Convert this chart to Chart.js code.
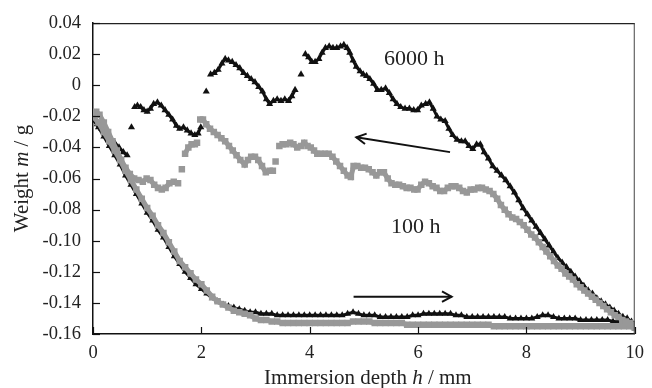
<!DOCTYPE html>
<html>
<head>
<meta charset="utf-8">
<script src="https://cdn.jsdelivr.net/npm/chart.js@4/dist/chart.umd.min.js"></script>
<style>
html,body{margin:0;padding:0;background:#fff;}
#wrap{width:652px;height:388px;}
</style>
</head>
<body>
<div id="wrap"><canvas id="c" width="652" height="388"></canvas></div>
<script>
// ---- data ----
const xTickLabels = ['0','2','4','6','8','10'];
const yTickLabels = ['-0.16','-0.14','-0.12','-0.10','-0.08','-0.06','-0.04','-0.02','0','0.02','0.04'];

// 6000 h, withdrawal branch (upper loop)
const h6000Withdrawal = [
[0,-0.022],[0.08,-0.025],[0.16,-0.028],[0.24,-0.031],[0.32,-0.034],[0.40,-0.037],[0.48,-0.040],[0.56,-0.043],[0.63,-0.045],
[0.67,null],[0.71,-0.027],[0.74,null],
[0.77,-0.014],[0.82,-0.013],[0.88,-0.014],[0.94,-0.016],[1.00,-0.017],[1.06,-0.015],[1.12,-0.012],[1.19,-0.011],[1.26,-0.013],[1.33,-0.016],[1.40,-0.019],[1.47,-0.022],[1.54,-0.026],[1.60,-0.028],[1.67,-0.027],[1.74,-0.029],[1.81,-0.031],[1.88,-0.032],[1.94,-0.031],[1.99,-0.027],
[2.04,null],[2.09,-0.004],[2.13,null],
[2.17,0.007],[2.24,0.008],[2.31,0.010],[2.38,0.014],[2.44,0.017],[2.50,0.016],[2.57,0.015],[2.64,0.013],[2.71,0.011],[2.78,0.008],[2.85,0.006],[2.92,0.004],[2.99,0.002],[3.06,-0.001],[3.13,-0.004],[3.20,-0.009],[3.26,-0.012],[3.33,-0.010],[3.40,-0.009],[3.47,-0.010],[3.54,-0.009],[3.61,-0.010],[3.67,-0.007],[3.73,-0.003],
[3.79,null],[3.84,0.007],[3.88,null],
[3.92,0.020],[3.98,0.018],[4.04,0.015],[4.10,0.015],[4.17,0.017],[4.23,0.021],[4.29,0.024],[4.36,0.025],[4.43,0.024],[4.50,0.024],[4.57,0.025],[4.63,0.026],[4.69,0.024],[4.74,0.021],[4.80,0.016],[4.86,0.012],[4.93,0.009],[4.99,0.007],[5.05,0.006],[5.11,0.004],[5.18,0.001],[5.25,-0.003],[5.32,-0.003],[5.40,-0.002],[5.47,-0.005],[5.54,-0.009],[5.61,-0.012],[5.68,-0.014],[5.76,-0.015],[5.84,-0.015],[5.92,-0.016],[5.99,-0.016],[6.06,-0.013],[6.14,-0.012],[6.21,-0.011],[6.28,-0.015],[6.35,-0.020],[6.42,-0.022],[6.50,-0.023],[6.57,-0.028],[6.64,-0.032],[6.72,-0.035],[6.80,-0.036],[6.87,-0.036],[6.94,-0.039],[7.01,-0.041],[7.08,-0.038],[7.15,-0.038],[7.22,-0.043],[7.30,-0.047],[7.38,-0.052],[7.46,-0.055],[7.54,-0.058],[7.62,-0.061],[7.70,-0.065],[7.78,-0.069],[7.86,-0.074],[7.94,-0.079],[8.02,-0.083],[8.10,-0.087],[8.18,-0.091],[8.26,-0.095],[8.34,-0.099],[8.42,-0.103],[8.50,-0.107],[8.58,-0.111],[8.66,-0.114],[8.74,-0.117],[8.82,-0.120],[8.90,-0.123],[8.98,-0.126],[9.06,-0.129],[9.14,-0.132],[9.22,-0.134],[9.30,-0.137],[9.38,-0.139],[9.46,-0.141],[9.54,-0.143],[9.62,-0.145],[9.70,-0.147],[9.78,-0.149],[9.86,-0.150],[9.94,-0.152],[10.00,-0.154]
];

// 6000 h, immersion branch (lower curve)
const h6000Immersion = [
[0,-0.022],[0.1,-0.027],[0.2,-0.033],[0.3,-0.039],[0.4,-0.045],[0.5,-0.051],[0.6,-0.058],[0.7,-0.064],[0.8,-0.070],[0.9,-0.076],[1.0,-0.082],[1.1,-0.087],[1.2,-0.093],[1.3,-0.098],[1.4,-0.104],[1.5,-0.110],[1.6,-0.115],[1.7,-0.120],[1.8,-0.124],[1.9,-0.128],[2.0,-0.131],[2.1,-0.134],[2.2,-0.137],[2.3,-0.139],[2.4,-0.141],[2.5,-0.142],[2.6,-0.143],[2.7,-0.144],[2.8,-0.145],[2.9,-0.146],
[3.0,-0.146],[3.1,-0.147],[3.2,-0.147],[3.3,-0.147],[3.4,-0.148],[3.5,-0.148],[3.6,-0.148],[3.7,-0.148],[3.8,-0.148],[3.9,-0.148],[4.0,-0.148],[4.1,-0.148],[4.2,-0.148],[4.3,-0.148],[4.4,-0.148],[4.5,-0.148],[4.6,-0.148],[4.7,-0.147],[4.8,-0.146],[4.9,-0.147],[5.0,-0.148],[5.1,-0.148],[5.2,-0.148],[5.3,-0.149],[5.4,-0.149],[5.5,-0.149],[5.6,-0.149],[5.7,-0.149],[5.8,-0.149],[5.9,-0.148],[6.0,-0.148],[6.1,-0.147],[6.2,-0.147],[6.3,-0.147],[6.4,-0.147],[6.5,-0.147],[6.6,-0.147],[6.7,-0.148],[6.8,-0.148],[6.9,-0.149],[7.0,-0.149],[7.1,-0.149],[7.2,-0.149],[7.3,-0.149],[7.4,-0.149],[7.5,-0.149],[7.6,-0.149],[7.7,-0.150],[7.8,-0.150],[7.9,-0.150],[8.0,-0.150],[8.1,-0.150],[8.2,-0.149],[8.3,-0.148],[8.4,-0.148],[8.5,-0.149],[8.6,-0.150],[8.7,-0.150],[8.8,-0.150],[8.9,-0.150],[9.0,-0.151],[9.1,-0.151],[9.2,-0.151],[9.3,-0.151],[9.4,-0.151],[9.5,-0.151],[9.6,-0.152],[9.7,-0.152],[9.8,-0.152],[9.9,-0.153],[10.0,-0.155]
];

// 100 h, withdrawal branch
const h100Withdrawal = [
[0,-0.018],[0.06,-0.017],[0.12,-0.019],[0.20,-0.024],[0.28,-0.030],[0.36,-0.036],[0.44,-0.042],[0.52,-0.048],[0.60,-0.053],[0.68,-0.057],[0.76,-0.060],[0.84,-0.061],[0.92,-0.062],[0.99,-0.060],[1.06,-0.061],[1.13,-0.064],[1.20,-0.066],[1.27,-0.067],[1.34,-0.066],[1.41,-0.063],[1.49,-0.062],[1.57,-0.063],
[1.61,null],[1.64,-0.054],[1.67,null],
[1.70,-0.044],[1.76,-0.040],[1.82,-0.038],[1.88,-0.038],[1.92,-0.037],
[1.95,null],
[1.98,-0.022],[2.03,-0.022],[2.09,-0.025],[2.16,-0.028],[2.23,-0.030],[2.30,-0.032],[2.37,-0.034],[2.44,-0.036],[2.51,-0.039],[2.58,-0.042],[2.65,-0.045],[2.72,-0.048],[2.80,-0.051],[2.86,-0.048],[2.92,-0.046],[2.99,-0.046],[3.05,-0.048],[3.12,-0.052],[3.19,-0.056],[3.26,-0.055],[3.32,-0.055],
[3.35,null],[3.37,-0.049],[3.40,null],
[3.44,-0.039],[3.50,-0.038],[3.57,-0.038],[3.64,-0.037],[3.70,-0.038],[3.77,-0.040],[3.84,-0.039],[3.90,-0.037],[3.96,-0.039],[4.02,-0.040],[4.08,-0.042],[4.14,-0.044],[4.21,-0.044],[4.28,-0.044],[4.35,-0.044],[4.42,-0.046],[4.49,-0.049],[4.56,-0.052],[4.63,-0.055],[4.70,-0.058],[4.76,-0.059],[4.81,-0.052],[4.88,-0.052],[4.95,-0.053],[5.02,-0.053],[5.09,-0.054],[5.16,-0.056],[5.23,-0.058],[5.30,-0.056],[5.37,-0.056],[5.44,-0.060],[5.51,-0.063],[5.58,-0.064],[5.65,-0.064],[5.72,-0.065],[5.79,-0.066],[5.86,-0.066],[5.93,-0.067],[5.99,-0.067],[6.06,-0.064],[6.13,-0.062],[6.20,-0.063],[6.27,-0.065],[6.34,-0.066],[6.41,-0.068],[6.48,-0.068],[6.55,-0.066],[6.62,-0.065],[6.69,-0.065],[6.76,-0.066],[6.83,-0.068],[6.90,-0.069],[6.97,-0.067],[7.04,-0.067],[7.11,-0.066],[7.18,-0.066],[7.25,-0.067],[7.32,-0.068],[7.39,-0.070],[7.46,-0.073],[7.53,-0.077],[7.60,-0.080],[7.67,-0.083],[7.74,-0.085],[7.81,-0.086],[7.88,-0.088],[7.95,-0.090],[8.02,-0.093],[8.09,-0.096],[8.16,-0.098],[8.23,-0.101],[8.30,-0.104],[8.37,-0.107],[8.44,-0.110],[8.51,-0.113],[8.58,-0.116],[8.65,-0.118],[8.72,-0.121],[8.79,-0.123],[8.86,-0.125],[8.93,-0.128],[9.00,-0.130],[9.07,-0.132],[9.14,-0.134],[9.21,-0.136],[9.28,-0.138],[9.35,-0.140],[9.42,-0.142],[9.49,-0.144],[9.56,-0.146],[9.63,-0.148],[9.70,-0.149],[9.77,-0.151],[9.84,-0.152],[9.91,-0.153],[10.00,-0.154]
];

// 100 h, immersion branch
const h100Immersion = [
[0,-0.020],[0.1,-0.024],[0.2,-0.030],[0.3,-0.036],[0.4,-0.042],[0.5,-0.048],[0.6,-0.055],[0.7,-0.061],[0.8,-0.067],[0.9,-0.073],[1.0,-0.079],[1.1,-0.084],[1.2,-0.090],[1.3,-0.095],[1.4,-0.101],[1.5,-0.107],[1.6,-0.113],[1.7,-0.117],[1.8,-0.121],[1.9,-0.125],[2.0,-0.128],[2.1,-0.132],[2.2,-0.136],[2.3,-0.139],[2.4,-0.141],[2.5,-0.143],[2.6,-0.145],[2.7,-0.146],[2.8,-0.147],[2.9,-0.148],
[3.0,-0.150],[3.1,-0.151],[3.2,-0.151],[3.3,-0.152],[3.4,-0.152],[3.5,-0.153],[3.6,-0.153],[3.7,-0.153],[3.8,-0.153],[3.9,-0.153],[4.0,-0.153],[4.1,-0.153],[4.2,-0.153],[4.3,-0.153],[4.4,-0.153],[4.5,-0.153],[4.6,-0.153],[4.7,-0.153],[4.8,-0.152],[4.9,-0.152],[5.0,-0.152],[5.1,-0.152],[5.2,-0.153],[5.3,-0.153],[5.4,-0.153],[5.5,-0.153],[5.6,-0.153],[5.7,-0.153],[5.8,-0.154],[5.9,-0.154],[6.0,-0.154],[6.1,-0.154],[6.2,-0.154],[6.3,-0.154],[6.4,-0.154],[6.5,-0.154],[6.6,-0.154],[6.7,-0.154],[6.8,-0.154],[6.9,-0.154],[7.0,-0.154],[7.1,-0.154],[7.2,-0.154],[7.3,-0.154],[7.4,-0.155],[7.5,-0.155],[7.6,-0.155],[7.7,-0.155],[7.8,-0.155],[7.9,-0.155],[8.0,-0.155],[8.1,-0.155],[8.2,-0.155],[8.3,-0.155],[8.4,-0.155],[8.5,-0.155],[8.6,-0.155],[8.7,-0.155],[8.8,-0.155],[8.9,-0.155],[9.0,-0.155],[9.1,-0.155],[9.2,-0.155],[9.3,-0.155],[9.4,-0.155],[9.5,-0.155],[9.6,-0.155],[9.7,-0.155],[9.8,-0.155],[9.9,-0.155],[10.0,-0.156]
];

// annotations (data coordinates)
const seriesLabels = [
  {text:'6000 h', x:5.37, y:0.0132},
  {text:'100 h',  x:5.50, y:-0.0948}
];
const arrows = [
  {from:[6.59,-0.043], to:[4.86,-0.0335]},
  {from:[4.81,-0.136], to:[6.62,-0.136]}
];

// ---- drawing ----
const SERIF = '"Liberation Serif","Times New Roman",serif';
const toPts = arr => arr.map(p => ({x:p[0], y:p[1]}));
const GRAY = '#989898', BLACK = '#111111';

const overlay = {
  id:'overlay',
  afterDraw(chart){
    const {ctx, chartArea:a, scales:{x, y}} = chart;
    ctx.save();
    // frame: top and right
    ctx.strokeStyle = '#222'; ctx.lineWidth = 1.2;
    ctx.beginPath(); ctx.moveTo(a.left, a.top + 0.5); ctx.lineTo(a.right, a.top + 0.5); ctx.stroke();
    ctx.strokeStyle = '#444'; ctx.lineWidth = 1;
    ctx.beginPath(); ctx.moveTo(a.right - 0.5, a.top); ctx.lineTo(a.right - 0.5, a.bottom); ctx.stroke();
    // inward ticks
    ctx.strokeStyle = '#111'; ctx.lineWidth = 1.2;
    y.ticks.forEach(t => {
      const py = Math.round(y.getPixelForValue(t.value)) + 0.5;
      ctx.beginPath(); ctx.moveTo(a.left, py); ctx.lineTo(a.left + 7, py); ctx.stroke();
    });
    x.ticks.forEach(t => {
      const px = Math.round(x.getPixelForValue(t.value)) + 0.5;
      ctx.beginPath(); ctx.moveTo(px, a.bottom); ctx.lineTo(px, a.bottom - 7); ctx.stroke();
    });
    // arrows
    ctx.strokeStyle = '#111'; ctx.lineWidth = 2;
    arrows.forEach(ar => {
      const x0 = x.getPixelForValue(ar.from[0]), y0 = y.getPixelForValue(ar.from[1]);
      const x1 = x.getPixelForValue(ar.to[0]),   y1 = y.getPixelForValue(ar.to[1]);
      const ang = Math.atan2(y1 - y0, x1 - x0), L = 11, s = 0.5;
      ctx.beginPath(); ctx.moveTo(x0, y0); ctx.lineTo(x1, y1); ctx.stroke();
      ctx.beginPath();
      ctx.moveTo(x1 - L*Math.cos(ang - s), y1 - L*Math.sin(ang - s));
      ctx.lineTo(x1, y1);
      ctx.lineTo(x1 - L*Math.cos(ang + s), y1 - L*Math.sin(ang + s));
      ctx.stroke();
    });
    // series labels
    ctx.fillStyle = '#222'; ctx.font = '22px ' + SERIF; ctx.textBaseline = 'alphabetic'; ctx.textAlign = 'left';
    seriesLabels.forEach(l => ctx.fillText(l.text, x.getPixelForValue(l.x), y.getPixelForValue(l.y)));
    // axis titles with italic symbols
    const drawMixed = (parts, cx, cy) => {
      let w = 0;
      parts.forEach(p => { ctx.font = p[1] + ' 21px ' + SERIF; w += ctx.measureText(p[0]).width; });
      let px = cx - w/2;
      parts.forEach(p => { ctx.font = p[1] + ' 21px ' + SERIF; ctx.fillText(p[0], px, cy); px += ctx.measureText(p[0]).width; });
    };
    ctx.fillStyle = '#222'; ctx.textAlign = 'left'; ctx.textBaseline = 'alphabetic';
    drawMixed([['Immersion depth ','normal'],['h','italic'],[' / mm','normal']], (a.left + a.right)/2 + 4, 384);
    ctx.save();
    ctx.translate(28, (a.top + a.bottom)/2);
    ctx.rotate(-Math.PI/2);
    drawMixed([['Weight ','normal'],['m','italic'],[' / g','normal']], 0, 0);
    ctx.restore();
    ctx.restore();
  }
};

new Chart(document.getElementById('c'), {
  type:'scatter',
  data:{
    datasets:[
      {label:'100 h withdrawal', data:toPts(h100Withdrawal), showLine:true, spanGaps:false,
       borderColor:GRAY, borderWidth:5, pointStyle:'rect', pointRadius:4.6, pointBackgroundColor:GRAY, pointBorderWidth:0},
      {label:'100 h immersion', data:toPts(h100Immersion), showLine:true,
       borderColor:GRAY, borderWidth:5, pointStyle:'rect', pointRadius:4.6, pointBackgroundColor:GRAY, pointBorderWidth:0},
      {label:'6000 h withdrawal', data:toPts(h6000Withdrawal), showLine:true, spanGaps:false,
       borderColor:BLACK, borderWidth:3, pointStyle:'triangle', pointRadius:4.1, pointBackgroundColor:BLACK, pointBorderWidth:0},
      {label:'6000 h immersion', data:toPts(h6000Immersion), showLine:true,
       borderColor:BLACK, borderWidth:3, pointStyle:'triangle', pointRadius:4, pointBackgroundColor:BLACK, pointBorderWidth:0}
    ]
  },
  options:{
    responsive:false, animation:false, devicePixelRatio:1,
    layout:{padding:{left:0, right:10, top:21, bottom:0}},
    plugins:{legend:{display:false}, tooltip:{enabled:false}},
    elements:{line:{tension:0}},
    scales:{
      x:{type:'linear', min:0, max:10,
         ticks:{stepSize:2, maxRotation:0, padding:8, color:'#222', font:{family:SERIF, size:18.5},
                callback:(v,i)=>xTickLabels[i]},
         grid:{display:false, drawTicks:false},
         border:{display:true, color:'#111', width:1.5},
         afterFit(s){ s.height = 54; }},
      y:{type:'linear', min:-0.16, max:0.04,
         ticks:{stepSize:0.02, padding:12, color:'#222', font:{family:SERIF, size:18.5},
                callback:(v,i)=>yTickLabels[i]},
         grid:{display:false, drawTicks:false},
         border:{display:true, color:'#111', width:1.5},
         afterFit(s){ s.width = 93; }}
    }
  },
  plugins:[overlay]
});
</script>
</body>
</html>
